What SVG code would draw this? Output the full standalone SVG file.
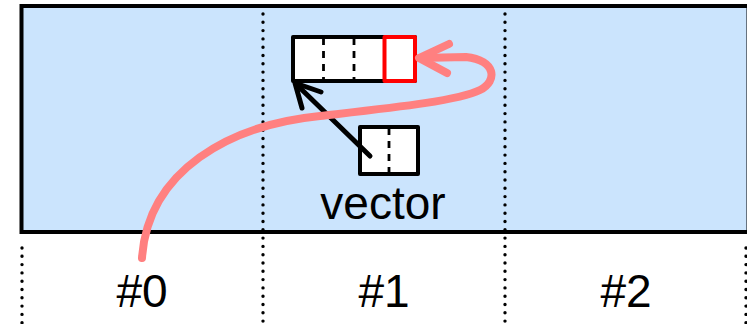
<svg xmlns="http://www.w3.org/2000/svg" width="747" height="324" viewBox="0 0 747 324">
  <style>
    .frame { fill: #cbe4fd; stroke: #000; stroke-width: 4; }
    .dots { fill: none; stroke: #000; stroke-width: 3.4; stroke-linecap: round; stroke-dasharray: 0 8.3; }
    .cell { fill: #fff; stroke: #000; stroke-width: 4; stroke-linejoin: round; }
    .cell-red { fill: #fff; stroke: #ff0000; stroke-width: 4; stroke-linejoin: round; }
    .divider { stroke: #000; stroke-width: 2.8; stroke-dasharray: 7 6; }
    .label { font-family: "Liberation Sans", Arial, sans-serif; font-size: 46px; fill: #000; text-anchor: middle; }
    .ptr { fill: none; stroke: #000; stroke-width: 5; stroke-linecap: round; stroke-linejoin: round; }
    .move { fill: none; stroke: #ff8080; stroke-width: 8; stroke-linecap: round; stroke-linejoin: round; }
  </style>

  <!-- memory region and column separators -->
  <g id="region">
    <rect class="frame" x="21.5" y="6" width="727" height="226"/>
    <line class="dots" x1="263" y1="14" x2="263" y2="324"/>
    <line class="dots" x1="505" y1="14" x2="505" y2="324"/>
    <line class="dots" x1="22" y1="248" x2="22" y2="324"/>
    <line class="dots" x1="746" y1="248" x2="746" y2="324"/>
  </g>

  <g id="columns">
    <text class="label" x="142" y="307">#0</text>
    <text class="label" x="384" y="307">#1</text>
    <text class="label" x="626" y="307">#2</text>
  </g>

  <!-- heap buffer -->
  <g id="buffer">
    <rect class="cell" x="293" y="37" width="122" height="44"/>
    <line class="divider" x1="323.5" y1="38" x2="323.5" y2="80"/>
    <line class="divider" x1="354" y1="38" x2="354" y2="80"/>
    <rect class="cell-red" x="384.5" y="37" width="30.5" height="44"/>
  </g>

  <!-- vector handle -->
  <g id="vector">
    <rect class="cell" x="360" y="127" width="58" height="47"/>
    <line class="divider" x1="389" y1="128" x2="389" y2="173"/>
    <text class="label" x="383" y="219">vector</text>
  </g>

  <g id="connectors">
    <line class="ptr" x1="370" y1="156" x2="297" y2="85"/>
    <polyline class="ptr" points="321,92 295,83 302,108"/>
    <path class="move" d="M142,258 C148,170 230,125 320,116 C390,108 458,101 480,90 C498,81 496,60 466,57 L420,58"/>
    <polyline class="move" points="449,44 419,58 447,73"/>
  </g>
</svg>
